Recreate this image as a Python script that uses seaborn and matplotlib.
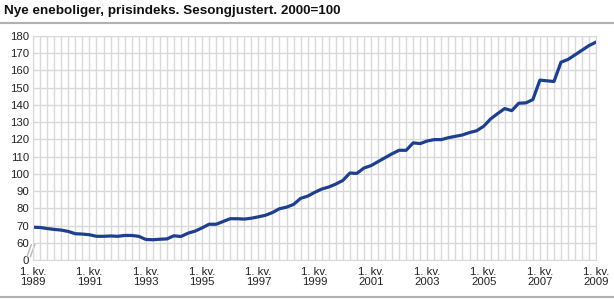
import pandas as pd
import seaborn as sns
import matplotlib.pyplot as plt
from matplotlib.lines import Line2D

sns.set_style('white')
plt.rcParams['font.family'] = ['Liberation Sans', 'DejaVu Sans']

# Data: prisindeks nye eneboliger, kvartalsvis 1989K1 - 2009K1
quarters = [f'{y}K{q}' for y in range(1989, 2010) for q in range(1, 5)][:81]
values = [
    69.1, 68.9, 68.3, 67.8, 67.4, 66.6, 65.3, 65.1,
    64.7, 63.8, 63.8, 64.0, 63.8, 64.3, 64.3, 63.8,
    62.0, 61.8, 62.1, 62.3, 64.1, 63.7, 65.6, 66.8,
    68.7, 70.8, 70.8, 72.4, 74.0, 74.0, 73.8, 74.3,
    75.1, 76.0, 77.6, 79.8, 80.7, 82.3, 85.8, 87.1,
    89.3, 91.2, 92.4, 94.1, 96.2, 100.5, 100.3, 103.4,
    104.8, 107.1, 109.4, 111.7, 113.7, 113.7, 118.0, 117.6,
    119.1, 119.9, 119.9, 121.0, 121.8, 122.6, 124.0, 125.0,
    127.6, 131.9, 135.0, 137.9, 136.7, 141.0, 141.2, 143.1,
    154.4, 154.0, 153.6, 164.8, 166.4, 169.1, 171.8, 174.5,
    176.5,
]
tick_years = ['1989', '1991', '1993', '1995', '1997', '1999',
              '2001', '2003', '2005', '2007', '2009']
ytick_vals = [50, 60, 70, 80, 90, 100, 110, 120, 130, 140, 150, 160, 170, 180]
ytick_labels = ['0', '60', '70', '80', '90', '100', '110', '120', '130',
                '140', '150', '160', '170', '180']
title = 'Nye eneboliger, prisindeks. Sesongjustert. 2000=100'

df = pd.DataFrame({'kvartal': quarters, 'indeks': values})
df['pos'] = range(len(df))

fig = plt.figure(figsize=(6.14, 3.0), dpi=100)
ax = fig.add_axes([0.054, 0.133, 0.917, 0.747])

sns.lineplot(data=df, x='pos', y='indeks', color='#1e3f8e', linewidth=2.3, ax=ax)

ax.set_xlim(0, 80)
ax.set_ylim(50, 180)
tick_pos = [quarters.index(y + 'K1') for y in tick_years]
ax.set_xticks(tick_pos)
ax.set_xticklabels(['1. kv.\n' + y for y in tick_years], linespacing=1.0)
ax.set_xticks(range(len(quarters)), minor=True)
ax.set_yticks(ytick_vals)
ax.set_yticklabels(ytick_labels)
ax.grid(True, which='both', color='#d9d9d9', linewidth=1)
ax.tick_params(which='both', length=0, labelsize=8.2, colors='#222222')
ax.tick_params(axis='x', pad=5)
ax.tick_params(axis='y', pad=3)
ax.set_xlabel('')
ax.set_ylabel('')
for s in ax.spines.values():
    s.set_color('#d9d9d9')

# akse-brudd
for dx in (0.0, 0.006):
    ax.plot([-0.011 + dx, -0.003 + dx], [0.015, 0.07], transform=ax.transAxes,
            color='#b8b8b8', linewidth=1.0, clip_on=False)

fig.text(0.006, 0.952, title, fontsize=9.7, fontweight='bold', va='baseline', color='#111111')
fig.add_artist(Line2D([0, 1], [0.924, 0.924], color='#b0b0b0', linewidth=1.5))
fig.add_artist(Line2D([0, 1], [0.01, 0.01], color='#b0b0b0', linewidth=1.5))

fig.savefig('out.png', dpi=100)
